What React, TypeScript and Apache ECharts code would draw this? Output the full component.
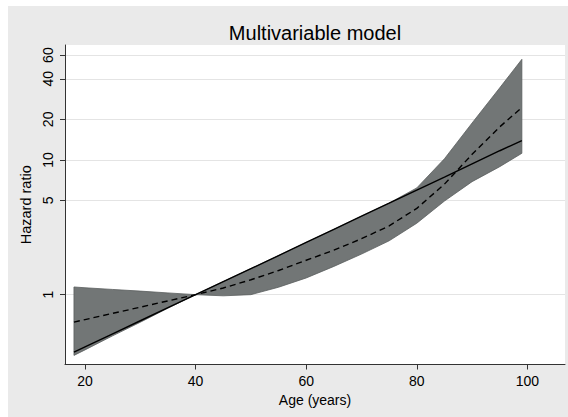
import React, { useEffect, useRef } from "react";
import * as echarts from "echarts";

// Age (years) at which the curves were read
const ages = [18, 20, 25, 30, 35, 40, 45, 50, 55, 60, 65, 70, 75, 80, 85, 90, 95, 99];
// Linear model hazard ratio (solid line)
const linearHR = [0.374, 0.409, 0.512, 0.64, 0.8, 1, 1.25, 1.56, 1.95, 2.44, 3.05, 3.82, 4.77, 5.97, 7.46, 9.33, 11.7, 13.9];
// Spline model hazard ratio (dashed line)
const splineHR = [0.625, 0.653, 0.726, 0.807, 0.899, 1, 1.12, 1.29, 1.51, 1.8, 2.14, 2.6, 3.24, 4.37, 6.61, 11.0, 17.6, 24.5];
// 95% confidence band
const upperCI = [1.14, 1.125, 1.093, 1.062, 1.03, 1, 1.25, 1.56, 1.95, 2.44, 3.05, 3.82, 4.78, 6.2, 10.2, 18.8, 34.3, 55.8];
const lowerCI = [0.354, 0.389, 0.495, 0.624, 0.794, 1, 0.98, 1.0, 1.135, 1.33, 1.62, 2.0, 2.51, 3.39, 4.95, 6.9, 8.91, 11.2];

const xTicks = [20, 40, 60, 80, 100];
const yTicks = [1, 5, 10, 20, 40, 60];

const title = "Multivariable model";
const xName = "Age (years)";
const yName = "Hazard ratio";

const FONT = "'Liberation Sans', Arial, Helvetica, sans-serif";

export default function App() {
  const ref = useRef<HTMLDivElement>(null);

  useEffect(() => {
    if (!ref.current) return;
    const chart = echarts.init(ref.current, undefined, { renderer: "svg" });

    const bandRows = ages.map((a, i) => [a, lowerCI[i], upperCI[i]]);
    const linearData = ages.map((a, i) => [a, linearHR[i]]);
    const splineData = ages.map((a, i) => [a, splineHR[i]]);

    chart.setOption({
      animation: false,
      backgroundColor: "#eaeaea",
      textStyle: { fontFamily: FONT },
      title: {
        text: title,
        left: 307,
        top: 17,
        padding: 0,
        textAlign: "center",
        textStyle: { fontFamily: FONT, fontSize: 20, fontWeight: "normal", color: "#000" },
      },
      grid: {
        left: 57,
        right: 3,
        top: 39,
        bottom: 52.5,
        show: true,
        backgroundColor: "#ffffff",
        borderWidth: 0,
      },
      xAxis: {
        type: "value",
        min: 16.38,
        max: 106.8,
        name: xName,
        nameLocation: "middle",
        nameGap: 28,
        nameTextStyle: { fontFamily: FONT, fontSize: 14, color: "#000" },
        axisLine: { show: true, onZero: false, lineStyle: { color: "#333", width: 1 } },
        axisTick: { show: true, length: 5, customValues: xTicks, lineStyle: { color: "#333" } },
        axisLabel: { customValues: xTicks, margin: 9, fontSize: 14, color: "#000", fontFamily: FONT },
        splitLine: { show: false },
      },
      yAxis: {
        type: "log",
        logBase: 10,
        min: 0.303,
        max: 71.3,
        name: yName,
        nameLocation: "middle",
        nameRotate: 90,
        nameGap: 21,
        nameTextStyle: { fontFamily: FONT, fontSize: 14.5, color: "#000" },
        axisLine: { show: true, onZero: false, lineStyle: { color: "#333", width: 1 } },
        axisTick: { show: true, length: 5, customValues: yTicks, lineStyle: { color: "#333" } },
        axisLabel: {
          customValues: yTicks,
          rotate: 90,
          margin: 10,
          fontSize: 14,
          color: "#000",
          fontFamily: FONT,
          formatter: (v: number) => String(Math.round(v)),
        },
        splitLine: { show: true, lineStyle: { color: "#e4e4e4", width: 1 } },
      },
      series: [
        {
          type: "custom",
          silent: true,
          clip: true,
          data: bandRows,
          encode: { x: 0, y: [1, 2] },
          renderItem: (params: any, api: any) => {
            if (params.dataIndex !== 0) return null;
            const top = bandRows.map((r) => api.coord([r[0], r[2]]));
            const bottom = bandRows.map((r) => api.coord([r[0], r[1]])).reverse();
            return {
              type: "polygon",
              shape: { points: top.concat(bottom) },
              style: { fill: "#727676", stroke: "#5a5e5e", lineWidth: 0.8 },
            };
          },
        },
        {
          type: "line",
          data: linearData,
          symbol: "none",
          lineStyle: { color: "#000", width: 1.4, type: "solid" },
        },
        {
          type: "line",
          data: splineData,
          symbol: "none",
          lineStyle: { color: "#000", width: 1.4, type: [6, 4] },
        },
      ],
    });

    return () => chart.dispose();
  }, []);

  return (
    <div
      ref={ref}
      style={{ position: "absolute", left: 8, top: 6, width: 560, height: 411 }}
    />
  );
}
